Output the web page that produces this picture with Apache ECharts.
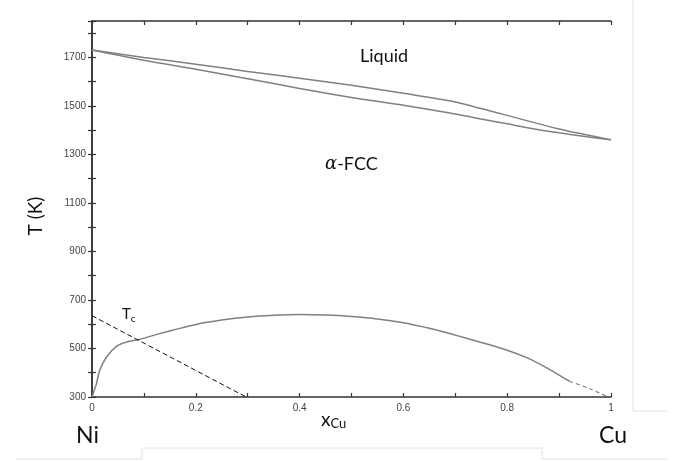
<!DOCTYPE html>
<html>
<head>
<meta charset="utf-8">
<script src="https://cdn.jsdelivr.net/npm/echarts@6/dist/echarts.min.js"></script>
<style>
  html, body { margin: 0; padding: 0; background: #fff; }
  #chart { width: 675px; height: 461px; }
</style>
</head>
<body>
<div id="chart"></div>
<script>
// liquidus / solidus (Ni-Cu)
const xLiq = [0, 0.1, 0.2, 0.3, 0.4, 0.5, 0.6, 0.7, 0.75, 0.8, 0.85, 0.9, 0.95, 1]
const liquidus = [1730, 1700, 1672, 1642, 1614, 1585, 1552, 1516, 1489, 1461, 1432, 1405, 1382, 1360]
const solidus = [1730, 1688, 1651, 1612, 1572, 1535, 1503, 1467, 1446, 1426, 1406, 1389, 1374, 1360]

// magnetic transition curve
const xMag = [0, 0.003, 0.008, 0.015, 0.028, 0.047, 0.067, 0.09, 0.12, 0.157, 0.2, 0.25, 0.3, 0.35, 0.4, 0.45, 0.5, 0.55, 0.6, 0.65, 0.7, 0.75, 0.8, 0.84, 0.87, 0.9, 0.92]
const tMag = [300, 320, 350, 410, 465, 509, 527, 537, 555, 576, 599, 617, 630, 637, 640, 638, 632, 622, 606, 583, 555, 525, 493, 460, 427, 390, 365]
const xMagDash = [0.92, 0.96, 0.995]
const tMagDash = [365, 333, 300]

// Tc dashed line
const xTc = [0, 0.297]
const tTc = [635, 300]

const xLabels = [0, 0.2, 0.4, 0.6, 0.8, 1]
const yLabels = [300, 500, 700, 900, 1100, 1300, 1500, 1700]

const pairs = (xs, ys) => xs.map((x, i) => [x, ys[i]])

const chart = echarts.init(document.getElementById('chart'))

const tickFont = { color: '#444', fontSize: 10, fontFamily: 'Liberation Sans' }
const frameLine = { show: true, lineStyle: { color: '#333', width: 1.5 } }
const tickIn = { show: true, inside: true, length: 4, lineStyle: { color: '#333', width: 1.2 } }
const curve = { color: '#808080', width: 1.5 }

chart.setOption({
  animation: false,
  grid: { left: 92, right: 64, top: 21, bottom: 64 },
  xAxis: [
    {
      type: 'value', min: 0, max: 1, interval: 0.1,
      axisLine: frameLine, axisTick: tickIn, splitLine: { show: false },
      axisLabel: {
        ...tickFont, margin: 6,
        formatter: v => xLabels.some(l => Math.abs(l - v) < 1e-6) ? String(+v.toFixed(1)) : ''
      }
    },
    {
      type: 'value', min: 0, max: 1, interval: 0.1, position: 'top',
      axisLine: frameLine, axisTick: tickIn, axisLabel: { show: false }, splitLine: { show: false }
    }
  ],
  yAxis: [
    {
      type: 'value', min: 300, max: 1850, interval: 100,
      axisLine: frameLine, axisTick: tickIn, splitLine: { show: false },
      axisLabel: {
        ...tickFont, margin: 6,
        formatter: v => yLabels.includes(Math.round(v)) ? String(Math.round(v)) : ''
      }
    },
    {
      type: 'value', min: 300, max: 1850, interval: 100, position: 'right',
      axisLine: frameLine, axisTick: tickIn, axisLabel: { show: false }, splitLine: { show: false }
    }
  ],
  series: [
    { type: 'line', data: pairs(xLiq, liquidus), smooth: 0.3, symbol: 'none', lineStyle: curve },
    { type: 'line', data: pairs(xLiq, solidus), smooth: 0.3, symbol: 'none', lineStyle: curve },
    { type: 'line', data: pairs(xMag, tMag), smooth: 0.3, symbol: 'none', lineStyle: curve },
    { type: 'line', data: pairs(xMagDash, tMagDash), smooth: 0.3, symbol: 'none', lineStyle: { ...curve, width: 1.2, type: [4, 3] } },
    { type: 'line', data: pairs(xTc, tTc), symbol: 'none', lineStyle: { color: '#111', width: 1, type: [5, 3] } }
  ],
  graphic: [
    {
      type: 'text', x: 36, y: 216, rotation: Math.PI / 2,
      style: { text: 'T (K)', font: '19px Lato', fill: '#111', align: 'center', verticalAlign: 'middle' }
    },
    {
      type: 'text', left: 321, top: 410,
      style: {
        text: '{a|x}{b|Cu}',
        rich: {
          a: { font: '19px Lato', fill: '#111' },
          b: { font: '13px Lato', fill: '#111', padding: [9, 0, 0, 0] }
        }
      }
    },
    { type: 'text', left: 360, top: 47, style: { text: 'Liquid', font: '18px Lato', fill: '#111' } },
    {
      type: 'text', left: 325, top: 155,
      style: {
        text: '{a|α}{b|-FCC}',
        rich: {
          a: { font: 'italic 18px "DejaVu Serif"', fill: '#111' },
          b: { font: '18px Lato', fill: '#111' }
        }
      }
    },
    {
      type: 'text', left: 122, top: 307,
      style: {
        text: '{a|T}{b|c}',
        rich: {
          a: { font: '15px Lato', fill: '#111' },
          b: { font: '10px Lato', fill: '#111', padding: [9, 0, 0, 0] }
        }
      }
    },
    { type: 'text', left: 76, top: 424, style: { text: 'Ni', font: '23px Lato', fill: '#111' } },
    { type: 'text', left: 599, top: 424, style: { text: 'Cu', font: '23px Lato', fill: '#111' } },
    // page edges visible in the original screenshot
    { type: 'polyline', shape: { points: [[633, 0], [633, 411], [667, 411]] }, style: { stroke: '#e2e2e2', lineWidth: 1, fill: null } },
    { type: 'polyline', shape: { points: [[17, 459], [142, 459], [142, 448], [542, 448], [542, 459], [667, 459]] }, style: { stroke: '#e2e2e2', lineWidth: 1, fill: null } }
  ]
})
</script>
</body>
</html>
